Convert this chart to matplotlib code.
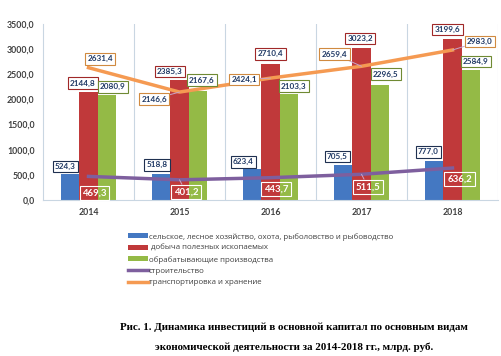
import matplotlib
matplotlib.use("Agg")
import matplotlib.pyplot as plt
import numpy as np

years = ["2014", "2015", "2016", "2017", "2018"]
agri = [524.3, 518.8, 623.4, 705.5, 777.0]
mining = [2144.8, 2385.3, 2710.4, 3023.2, 3199.6]
manuf = [2080.9, 2167.6, 2103.3, 2296.5, 2584.9]
constr = [469.3, 401.2, 443.7, 511.5, 636.2]
transp = [2631.4, 2146.6, 2424.1, 2659.4, 2983.0]
series_names = [
    "сельское, лесное хозяйство, охота, рыболовство и рыбоводство",
    " добыча полезных ископаемых",
    "обрабатывающие производства",
    "строительство",
    "транспортировка и хранение",
]
caption = ["Рис. 1. Динамика инвестиций в основной капитал по основным видам",
           "экономической деятельности за 2014-2018 гг., млрд. руб."]

# label offsets in pixels (dx, dy) -- layout only
agri_off = [(-5, 7), (-4, 9), (-9, 7), (-6, 8), (-6, 9)]
mining_off = [(-5.5, 9), (-9.5, 8.5), (0, 10), (-1.5, 9.5), (-5, 9.5)]
manuf_off = [(6, 8.5), (4, 11), (5, 8), (6, 10.5), (5, 8.5)]
transp_off = [(11.5, 9), (-25.5, -7), (-26.5, -1.5), (-27, 12), (27.5, 8.5)]
constr_off = [(6, -16.5), (6.5, -12), (5.5, -11.5), (6.5, -12.5), (7, -11)]
transp_leader = [False, True, True, True, True]
constr_leader = [False, True, False, True, False]

DPI = 100
fig = plt.figure(figsize=(5.02, 3.56), dpi=DPI)
ax = fig.add_axes([43/502, 1-200/356, (498-43)/502, (200-24)/356])

c_blue = "#4478c2"
c_red = "#c0393a"
c_green = "#94ba46"
c_purple = "#7e5f9e"
c_orange = "#f59a52"

x = np.arange(len(years))
w = 0.2
hb = ax.bar(x - w, agri, w, color=c_blue, zorder=2, label=series_names[0])
hr = ax.bar(x, mining, w, color=c_red, zorder=2, label=series_names[1])
hg = ax.bar(x + w, manuf, w, color=c_green, zorder=2, label=series_names[2])
hp, = ax.plot(x, constr, color=c_purple, lw=2.5, zorder=3, label=series_names[3])
ho, = ax.plot(x, transp, color=c_orange, lw=2.5, zorder=3, label=series_names[4])

ax.set_xlim(-0.5, len(years) - 0.5)
ax.set_ylim(0, 3500)
ax.set_yticks(np.arange(0, 3501, 500))
ax.set_yticklabels([f"{v:.1f}".replace(".", ",") for v in np.arange(0, 3501, 500)])
ax.set_xticks(x)
ax.set_xticklabels(years)
for lab in ax.get_yticklabels() + ax.get_xticklabels():
    lab.set_fontfamily(["Lato", "DejaVu Sans"])
    lab.set_fontsize(6.3)
    lab.set_fontweight("bold")
    lab.set_color("#404040")
ax.tick_params(length=0, pad=6)
ax.tick_params(axis="y", pad=6)

for s in ["top", "right"]:
    ax.spines[s].set_visible(False)
ax.spines["left"].set_color("#c9d6e2")
ax.spines["bottom"].set_color("#c9d6e2")
ax.spines["left"].set_linewidth(0.8)
ax.spines["bottom"].set_linewidth(0.8)
for b in np.arange(0.5, len(years) - 0.5 + 0.01, 1.0):
    ax.axvline(b, color="#c9d6e2", lw=0.8, zorder=1)

px2pt = 72 / DPI
lab_font = ["Lato", "DejaVu Sans"]


def fmt(v):
    return f"{v:.1f}".replace(".", ",")


def label(xv, yv, off, ec, tc, size=5.9, leader=False, fc="white"):
    kw = {}
    if leader:
        kw["arrowprops"] = dict(arrowstyle="-", color="#c8a4c8", lw=0.7,
                                shrinkA=0, shrinkB=0)
    ax.annotate(fmt(yv), xy=(xv, yv),
                xytext=(off[0] * px2pt, off[1] * px2pt), textcoords="offset points",
                ha="center", va="center", fontsize=size, fontweight="bold",
                family=lab_font, color=tc, zorder=5,
                bbox=dict(boxstyle="square,pad=0.28", fc=fc, ec=ec, lw=0.8), **kw)


for i in range(len(years)):
    label(x[i] - w, agri[i], agri_off[i], "#1f3050", "#1f3864")
    label(x[i], mining[i], mining_off[i], "#a02828", "#1f3864")
    label(x[i] + w, manuf[i], manuf_off[i], "#6f8a33", "#1f3864")
    label(x[i], transp[i], transp_off[i], "#d08a40", "#1f3864",
          leader=transp_leader[i])
    label(x[i], constr[i], constr_off[i], "white", "white", size=6.9,
          leader=constr_leader[i], fc="none")

handles = [hb, hr, hg, hp, ho]
leg = fig.legend(handles, series_names, loc="upper left",
                 bbox_to_anchor=(128/502, 1-233/356), frameon=False,
                 prop=dict(family=["Open Sans", "DejaVu Sans"], size=5.7),
                 handlelength=2.5, handleheight=0.6, handletextpad=0.1,
                 labelspacing=0.5, borderpad=0, borderaxespad=0)
for t in leg.get_texts():
    t.set_color("#404040")

fig.text(294/502, 1-327/356, caption[0], ha="center", va="center",
         family=["Liberation Serif", "DejaVu Serif"], fontsize=7.95, weight="bold")
fig.text(294/502, 1-347/356, caption[1], ha="center", va="center",
         family=["Liberation Serif", "DejaVu Serif"], fontsize=7.95, weight="bold")

fig.savefig("out.png", dpi=DPI, facecolor="white")
